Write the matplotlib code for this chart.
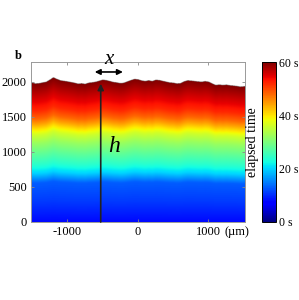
import numpy as np
import matplotlib
matplotlib.use("Agg")
import matplotlib.pyplot as plt
from matplotlib.cm import ScalarMappable
from matplotlib.colors import Normalize

plt.rcParams['font.family'] = ['Liberation Serif', 'DejaVu Serif']
plt.rcParams['axes.unicode_minus'] = False

# Final (t = 60 s) interface profile
front_x = [-1500, -1450, -1400, -1350, -1300, -1250, -1200, -1150, -1100, -1050,
           -1000, -950, -900, -850, -800, -750, -700, -650, -600, -550,
           -500, -450, -400, -350, -300, -250, -200, -150, -100, -50,
           0, 50, 100, 150, 200, 250, 300, 350, 400, 450,
           500, 550, 600, 650, 700, 750, 800, 850, 900, 950,
           1000, 1050, 1100, 1150, 1200, 1250, 1300, 1350, 1400, 1450, 1500]
front_h = [1986, 1975, 1980, 1990, 2000, 2030, 2063, 2040, 2020, 2012,
           2005, 1995, 1986, 1972, 1977, 1970, 1986, 1992, 2000, 2015,
           2030, 2022, 2010, 1996, 1990, 1980, 1986, 2005, 2024, 2040,
           2034, 2018, 2010, 2020, 2010, 2028, 2024, 2012, 2000, 1990,
           1986, 1975, 1980, 2005, 2020, 2016, 2010, 2004, 2000, 2008,
           2000, 1975, 1953, 1960, 1953, 1958, 1950, 1945, 1939, 1930, 1935]

# Elapsed time (s) vs mean interface height (um)
snap_t = [0, 8, 11, 13, 16, 20, 24, 28, 32, 36, 40, 44, 48, 52, 56, 60]
snap_h = [-400, 0, 300, 560, 620, 700, 820, 980, 1130, 1250, 1330, 1400, 1480, 1600, 1800, 1995]

xticks = [-1000, 0, 1000]
yticks = [0, 500, 1000, 1500, 2000]
cbar_ticks = [0, 20, 40, 60]
cbar_labels = ['0 s', '20 s', '40 s', '60 s']

fig = plt.figure(figsize=(2.99, 3.0), dpi=100)
ax = fig.add_axes([0.1037, 0.26, 0.716, 0.5333])

xlim = (-1515, 1525)
ylim = (0, 2280)
gx = np.linspace(xlim[0], xlim[1], 600)
gy = np.linspace(ylim[0], ylim[1], 600)
top = np.interp(gx, front_x, front_h)
mtop = np.mean(front_h)
dev = top - mtop
T = np.full((gy.size, gx.size), np.nan)
for j in range(gx.size):
    hk = np.array([m + dev[j] * max(m, 0) / mtop for m in snap_h])
    col = np.interp(gy, hk, snap_t)
    col[gy > hk[-1]] = np.nan
    T[:, j] = col
Tm = np.ma.masked_invalid(T)
ax.imshow(Tm, origin='lower', extent=[xlim[0], xlim[1], ylim[0], ylim[1]],
          aspect='auto', cmap='jet', vmin=0, vmax=60, interpolation='bilinear')
ax.set_xlim(xlim)
ax.set_ylim(ylim)
ax.set_xticks(xticks)
ax.set_yticks(yticks)
ax.tick_params(direction='in', length=2.5, width=0.6, color='#888888',
               labelsize=9, top=True, right=True, pad=3)
for s in ax.spines.values():
    s.set_color('#999999')
    s.set_linewidth(0.7)

# arrows and symbols
ax.annotate('', xy=(-525, 1970), xytext=(-525, 0),
            arrowprops=dict(arrowstyle='-|>', color='#222222', lw=1.2,
                            mutation_scale=9, shrinkA=0, shrinkB=0))
ax.annotate('', xy=(-610, 2138), xytext=(-210, 2138),
            arrowprops=dict(arrowstyle='<|-|>', color='black', lw=1.2,
                            mutation_scale=8, shrinkA=0, shrinkB=0),
            annotation_clip=False)
ax.text(-415, 2310, 'x', fontsize=15, style='italic', ha='center', va='center',
        clip_on=False)
ax.text(-340, 1070, 'h', fontsize=17, style='italic', ha='center', va='center')

fig.text(0.792, 0.227, '(\u00b5m)', fontsize=9, ha='center', va='center')
fig.text(0.06, 0.815, 'b', fontsize=9, fontweight='bold', ha='center', va='center')

cax = fig.add_axes([0.876, 0.26, 0.047, 0.5333])
cb = fig.colorbar(ScalarMappable(norm=Normalize(0, 60), cmap='jet'), cax=cax)
cb.set_ticks(cbar_ticks)
cb.set_ticklabels(cbar_labels)
cb.outline.set_linewidth(0.7)
cax.tick_params(labelsize=8.5, length=0, pad=2)
cax.yaxis.set_label_position('left')
cb.set_label('elapsed time', fontsize=10, labelpad=2)

fig.savefig('out.png', dpi=100)
